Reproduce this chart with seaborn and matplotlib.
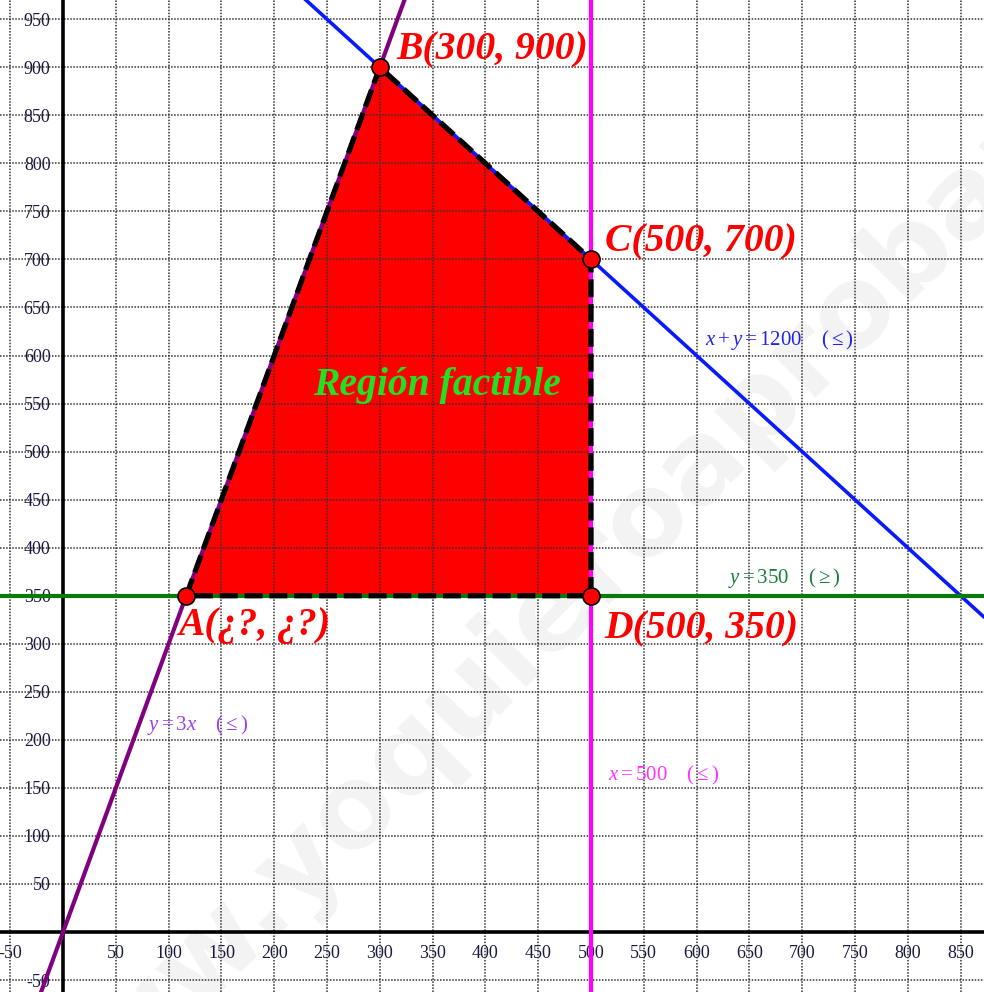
import numpy as np
import pandas as pd
import matplotlib
matplotlib.use("Agg")
import matplotlib.pyplot as plt
import seaborn as sns

# =====================================================
# Data
# =====================================================

# vertices of the feasible region (A, B, C, D)
vertex_names = ["A(¿?, ¿?)", "B(300, 900)", "C(500, 700)", "D(500, 350)"]
vertex_x = [350 / 3, 300, 500, 500]
vertex_y = [350, 900, 700, 350]

# constraints
slope_purple = 3          # y = 3x
sum_blue = 1200           # x + y = 1200
level_green = 350         # y = 350
level_magenta = 500       # x = 500

x_ticks = [-50, 50, 100, 150, 200, 250, 300, 350, 400, 450, 500,
           550, 600, 650, 700, 750, 800, 850]
y_ticks = [-50, 50, 100, 150, 200, 250, 300, 350, 400, 450, 500,
           550, 600, 650, 700, 750, 800, 850, 900, 950]

x_min, x_max = -59.7, 872.2
y_min, y_max = -62.4, 970

# =====================================================
# Style
# =====================================================

sns.set_style("white")
plt.rcParams["font.family"] = ["Liberation Serif", "DejaVu Serif"]
plt.rcParams["mathtext.fontset"] = "custom"
plt.rcParams["mathtext.rm"] = "Liberation Serif"
plt.rcParams["mathtext.it"] = "Liberation Serif:italic"

fig = plt.figure(figsize=(9.84, 9.92), dpi=100)
ax = fig.add_axes([0, 0, 1, 1])

# watermark (under grid and region)
ax.text(0.6, 0.42, "www.yoquieroaprobar.es", rotation=45, fontsize=82,
        fontweight="bold", family="DejaVu Sans", color="#f3f3f3",
        ha="center", va="center", zorder=0.5, transform=fig.transFigure)

# =====================================================
# Grid & axes
# =====================================================

grid_vals = np.arange(-50, 1000, 50)
for g in grid_vals:
    ax.axvline(g, color="#333333", lw=1.1, ls=(0, (1, 1)), zorder=3)
    ax.axhline(g, color="#333333", lw=1.1, ls=(0, (1, 1)), zorder=3)

ax.spines["left"].set_position(("data", 0))
ax.spines["bottom"].set_position(("data", 0))
ax.spines["top"].set_visible(False)
ax.spines["right"].set_visible(False)
for s in ["left", "bottom"]:
    ax.spines[s].set_linewidth(2.6)
    ax.spines[s].set_color("black")
    ax.spines[s].set_zorder(3.5)

ax.set_xticks(x_ticks)
ax.set_yticks(y_ticks)
ax.set_xticklabels([str(v) for v in x_ticks])
ax.set_yticklabels([str(v) for v in y_ticks])
ax.tick_params(axis="both", direction="inout", length=16, width=2,
               colors="black", labelsize=13, labelcolor="#1a1a40", pad=1)

# =====================================================
# Constraint lines
# =====================================================

xs = np.array([x_min, x_max])

lines_df = pd.DataFrame({
    "x": np.concatenate([xs, xs]),
    "y": np.concatenate([slope_purple * xs, sum_blue - xs]),
    "line": ["purple"] * 2 + ["blue"] * 2,
})

sns.lineplot(data=lines_df[lines_df["line"] == "purple"], x="x", y="y",
             color="#800080", lw=3, ax=ax, zorder=4)
sns.lineplot(data=lines_df[lines_df["line"] == "blue"], x="x", y="y",
             color="#0a1aff", lw=2.6, ax=ax, zorder=4)
ax.axhline(level_green, color="#0a7a0a", lw=3, zorder=4)
ax.axvline(level_magenta, color="#ff00ff", lw=3, zorder=4)

# =====================================================
# Feasible region
# =====================================================

ax.fill(vertex_x, vertex_y, color="#ff0000", zorder=2.5, lw=0)
ax.fill(vertex_x, vertex_y, facecolor="none", edgecolor="black", lw=3.8,
        ls=(0, (3.4, 1.3)), zorder=5)

pts = pd.DataFrame({"x": vertex_x, "y": vertex_y, "name": vertex_names})
sns.scatterplot(data=pts, x="x", y="y", color="#ff0000", edgecolor="black",
                linewidth=1.2, s=150, ax=ax, zorder=6)

# =====================================================
# Labels
# =====================================================

label_style = dict(color="#ff0000", fontsize=28.5, fontweight="bold",
                   fontstyle="italic", va="center", ha="left", zorder=7)
ax.text(109, 319, vertex_names[0], **label_style)
ax.text(316, 918, vertex_names[1], **label_style)
ax.text(513, 718, vertex_names[2], **label_style)
ax.text(513, 316, vertex_names[3], **label_style)

ax.text(354, 569, "Región factible", color="#22e022", fontsize=28.5,
        fontweight="bold", fontstyle="italic", ha="center", va="center",
        zorder=7)

ax.text(608, 616, r"$x + y = 1200\quad\ (\leq)$", color="#2222ee",
        fontsize=15, ha="left", va="center", zorder=7)
ax.text(630, 368, r"$y = 350\quad\ (\geq)$", color="#1a7f3a",
        fontsize=15, ha="left", va="center", zorder=7)
ax.text(79.5, 215, r"$y = 3x\quad\ (\leq)$", color="#9a40f0",
        fontsize=15, ha="left", va="center", zorder=7)
ax.text(516, 163, r"$x = 500\quad\ (\leq)$", color="#ff33ff",
        fontsize=15, ha="left", va="center", zorder=7)

ax.set_xlim(x_min, x_max)
ax.set_ylim(y_min, y_max)
ax.set_xlabel("")
ax.set_ylabel("")
if ax.get_legend() is not None:
    ax.get_legend().remove()

fig.savefig("out.png", dpi=100)
plt.close(fig)
